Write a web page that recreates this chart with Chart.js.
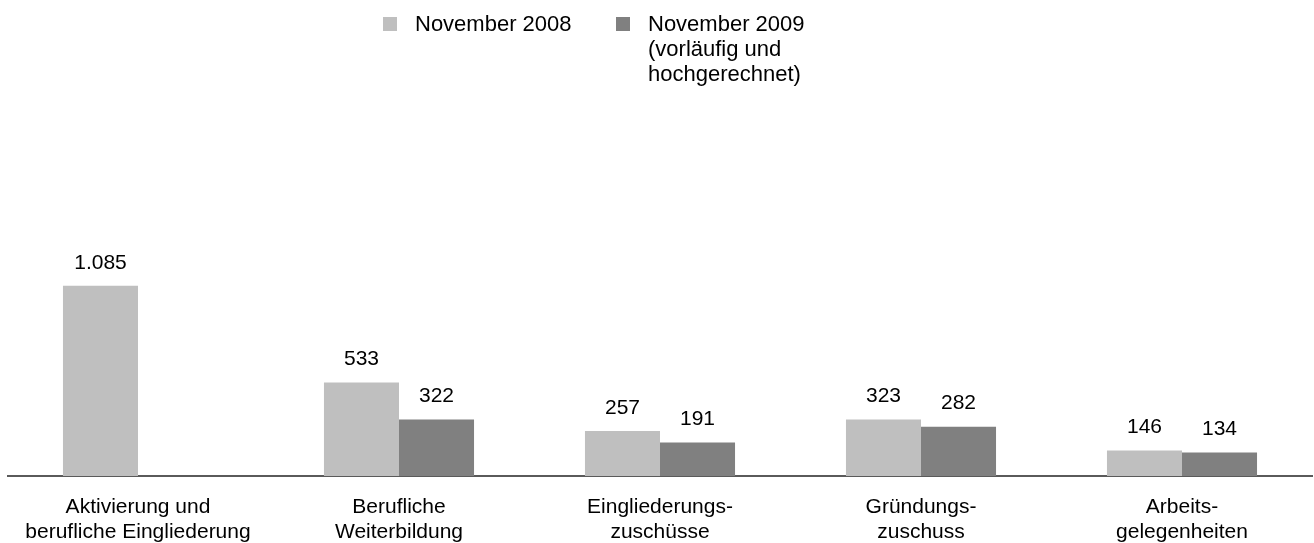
<!DOCTYPE html>
<html>
<head>
<meta charset="utf-8">
<script src="https://cdn.jsdelivr.net/npm/chart.js@4"></script>
<style>
html, body { margin: 0; padding: 0; background: #fff; }
#wrap { width: 1314px; height: 543px; }
</style>
</head>
<body>
<div id="wrap"><canvas id="chart"></canvas></div>
<script>
"use strict";
const categories = [
    ["Aktivierung und", "berufliche Eingliederung"],
    ["Berufliche", "Weiterbildung"],
    ["Eingliederungs-", "zuschüsse"],
    ["Gründungs-", "zuschuss"],
    ["Arbeits-", "gelegenheiten"]
];
const values2008 = [1085, 533, 257, 323, 146];
const values2009 = [null, 322, 191, 282, 134];
const legend2008 = ["November 2008"];
const legend2009 = ["November 2009", "(vorläufig und", "hochgerechnet)"];

const FONT = "'Liberation Sans', Arial, sans-serif";
Chart.defaults.font.family = FONT;
Chart.defaults.color = '#000';

function fmt(v) {
    return String(v).replace(/\B(?=(\d{3})+(?!\d))/g, '.');
}

// value labels above each bar
const barLabels = {
    id: 'barLabels',
    afterDatasetsDraw(chart) {
        const ctx = chart.ctx;
        ctx.save();
        ctx.font = '21px ' + FONT;
        ctx.fillStyle = '#000';
        ctx.textAlign = 'center';
        ctx.textBaseline = 'middle';
        chart.data.datasets.forEach((ds, i) => {
            chart.getDatasetMeta(i).data.forEach((bar, j) => {
                const v = ds.data[j];
                if (v == null) return;
                ctx.fillText(fmt(v), bar.x, bar.y - 23);
            });
        });
        ctx.restore();
    }
};

// legend with square markers and multi-line text
const topLegend = {
    id: 'topLegend',
    afterDraw(chart) {
        const ctx = chart.ctx;
        const xs = [383, 616];
        const lines = [legend2008, legend2009];
        ctx.save();
        ctx.font = '22px ' + FONT;
        ctx.textBaseline = 'alphabetic';
        ctx.textAlign = 'left';
        chart.data.datasets.forEach((ds, i) => {
            ctx.fillStyle = ds.backgroundColor;
            ctx.fillRect(xs[i], 17, 14, 14);
            ctx.fillStyle = '#000';
            lines[i].forEach((t, j) => ctx.fillText(t, xs[i] + 32, 31 + j * 25));
        });
        ctx.restore();
    }
};

new Chart(document.getElementById('chart'), {
    type: 'bar',
    data: {
        labels: categories,
        datasets: [{
                label: legend2008.join(' '),
                data: values2008,
                backgroundColor: '#bfbfbf',
                categoryPercentage: 0.575,
                barPercentage: 1
            }, {
                label: legend2009.join(' '),
                data: values2009,
                backgroundColor: '#808080',
                categoryPercentage: 0.575,
                barPercentage: 1
            }]
    },
    options: {
        responsive: true,
        maintainAspectRatio: false,
        animation: false,
        layout: {
            padding: {
                top: 213,
                left: 7.5,
                right: 1.5,
                bottom: -12.5
            }
        },
        scales: {
            x: {
                grid: { display: false },
                border: { display: true, color: '#5a5a5a', width: 2 },
                ticks: {
                    padding: 10.5,
                    color: '#000',
                    font: { size: 21 },
                    maxRotation: 0,
                    autoSkip: false
                }
            },
            y: {
                display: false,
                min: 0,
                max: 1500
            }
        },
        plugins: {
            legend: { display: false },
            tooltip: { enabled: false }
        }
    },
    plugins: [barLabels, topLegend]
});
</script>
</body>
</html>
